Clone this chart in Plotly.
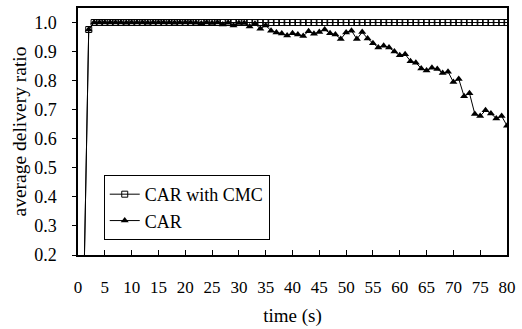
import plotly.graph_objects as go

time_s = list(range(1, 81))

car_with_cmc = [0.0, 0.976] + [1.0] * 78

car = [
    0.0, 0.976, 1.0, 1.0, 1.0, 1.0, 1.0, 1.0, 0.999, 1.0,
    1.0, 1.0, 0.999, 1.0, 1.0, 1.0, 1.0, 0.999, 1.0, 1.0,
    1.0, 0.999, 0.997, 1.0, 0.998, 1.0, 0.993, 0.999, 0.99, 0.998,
    0.998, 0.986, 0.996, 0.979, 0.99, 0.972, 0.966, 0.962, 0.955, 0.963,
    0.959, 0.954, 0.97, 0.961, 0.967, 0.976, 0.963, 0.959, 0.943, 0.966,
    0.972, 0.943, 0.967, 0.945, 0.929, 0.914, 0.92, 0.914, 0.90, 0.887,
    0.891, 0.867, 0.862, 0.842, 0.835, 0.844, 0.84, 0.826, 0.831, 0.795,
    0.806, 0.746, 0.757, 0.685, 0.678, 0.698, 0.687, 0.67, 0.678, 0.645,
]

x_ticks = list(range(0, 81, 5))
y_ticks = [0.2, 0.3, 0.4, 0.5, 0.6, 0.7, 0.8, 0.9, 1.0]

FONT = "Liberation Serif, Times New Roman, Tinos, DejaVu Serif, serif"

fig = go.Figure()
fig.add_trace(go.Scatter(
    x=time_s, y=car_with_cmc, name="CAR with CMC", mode="lines+markers",
    line=dict(color="black", width=1),
    marker=dict(symbol="square-open", size=6, color="black", line=dict(width=1)),
))
fig.add_trace(go.Scatter(
    x=time_s, y=car, name="CAR", mode="lines+markers",
    line=dict(color="black", width=1),
    marker=dict(symbol="triangle-up", size=7, color="black"),
))

fig.update_layout(
    width=522, height=329,
    margin=dict(l=78, r=13, t=6, b=70),
    paper_bgcolor="white", plot_bgcolor="white",
    font=dict(family=FONT, size=17, color="black"),
    showlegend=True,
    legend=dict(
        x=0.06, y=0.324, xanchor="left", yanchor="top",
        bgcolor="white", bordercolor="black", borderwidth=1,
        font=dict(family=FONT, size=18, color="black"),
        itemwidth=30, tracegroupgap=0,
    ),
    xaxis=dict(
        range=[0, 80], tickvals=x_ticks, ticktext=[str(v) for v in x_ticks],
        ticks="inside", ticklen=5, tickcolor="black",
        tickfont=dict(family=FONT, size=17, color="black"),
        showline=True, linecolor="black", linewidth=1.5, mirror=True,
        showgrid=False, zeroline=False,
        ticklabelstandoff=16,
        title=dict(text="time (s)", font=dict(family=FONT, size=19, color="black"), standoff=13),
    ),
    yaxis=dict(
        range=[0.2, 1.05], tickvals=y_ticks, ticktext=[f"{v:.1f}" for v in y_ticks],
        ticks="outside", ticklen=4, tickcolor="black",
        tickfont=dict(family=FONT, size=18, color="black"),
        showline=True, linecolor="black", linewidth=1.5, mirror=True,
        showgrid=False, zeroline=False,
        ticklabelstandoff=12,
        title=dict(text="average delivery ratio", font=dict(family=FONT, size=19.5, color="black"), standoff=2),
    ),
)

fig.write_html(
    "out.html",
    config={"displayModeBar": False},
    post_script="document.body.style.margin='0';document.body.style.padding='0';",
)
